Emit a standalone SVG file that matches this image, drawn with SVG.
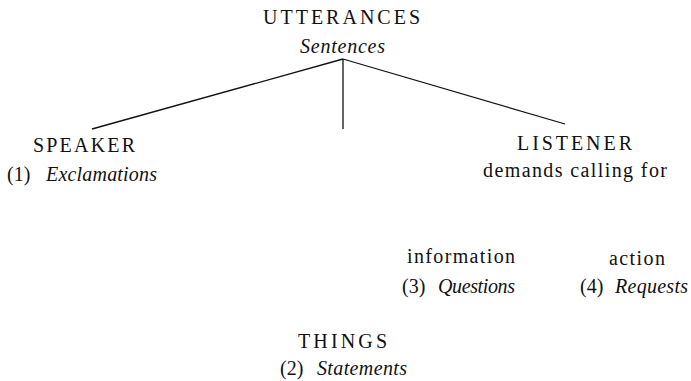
<svg xmlns="http://www.w3.org/2000/svg" width="691" height="381" viewBox="0 0 691 381">
<style>
.i{font-style:italic}
.ln{stroke:#111;stroke-width:1.3;fill:none}
</style>
<rect width="691" height="381" fill="#fff"/>
<g id="connectors">
<path class="ln" d="M343 59 L92 129"/>
<path class="ln" d="M343 59 L565 124"/>
<path class="ln" d="M343 59 L343 129"/>
</g>
<g font-family="Liberation Serif, Times New Roman, DejaVu Serif, serif" font-size="20" fill="#111">
<g id="utterances">
<text x="263" y="24" textLength="157" lengthAdjust="spacing">UTTERANCES</text>
<text class="i" x="300" y="53" textLength="85" lengthAdjust="spacing">Sentences</text>
</g>
<g id="speaker">
<text x="33" y="152" textLength="102" lengthAdjust="spacing">SPEAKER</text>
<text x="7" y="181">(1)</text>
<text class="i" x="46" y="181" textLength="111" lengthAdjust="spacing">Exclamations</text>
</g>
<g id="listener">
<text x="517" y="150" textLength="115" lengthAdjust="spacing">LISTENER</text>
<text x="483" y="177" textLength="184" lengthAdjust="spacing">demands calling for</text>
</g>
<g id="information">
<text x="407" y="263" textLength="108" lengthAdjust="spacing">information</text>
<text x="402" y="293">(3)</text>
<text class="i" x="438" y="293" textLength="77" lengthAdjust="spacing">Questions</text>
</g>
<g id="action">
<text x="609" y="265" textLength="56" lengthAdjust="spacing">action</text>
<text x="580" y="293">(4)</text>
<text class="i" x="615" y="293" textLength="73" lengthAdjust="spacing">Requests</text>
</g>
<g id="things">
<text x="298" y="348" textLength="89" lengthAdjust="spacing">THINGS</text>
<text x="280" y="375">(2)</text>
<text class="i" x="317" y="375" textLength="90" lengthAdjust="spacing">Statements</text>
</g>
</g>
</svg>
